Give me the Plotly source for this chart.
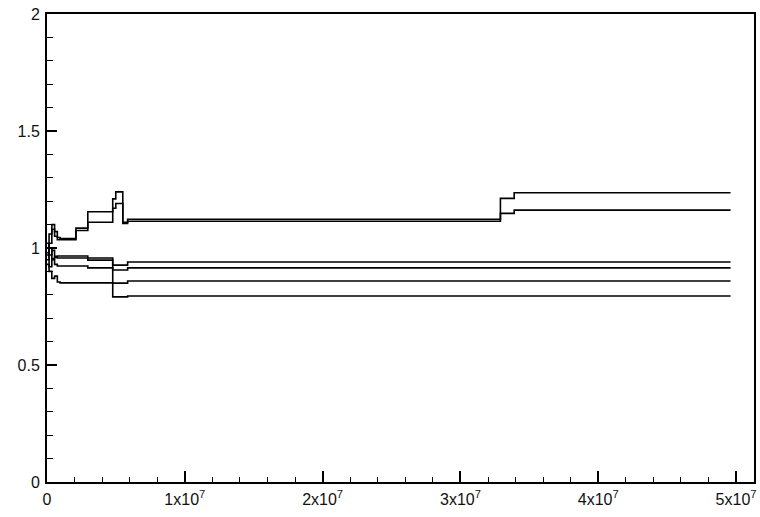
import plotly.graph_objects as go

# shared step breakpoints (x values)
x_steps = [0, 1.5e5, 3.5e5, 5.5e5, 7.5e5, 9.5e5, 2.1e6, 2.96e6, 4.77e6, 4.99e6,
           5.5e6, 5.85e6, 6.1e6, 3.29e7, 3.39e7, 4.96e7]

upper_a = [1.00, 1.06, 1.10, 1.07, 1.045, 1.04, 1.085, 1.155, 1.21, 1.24,
           1.11, 1.123, 1.123, 1.212, 1.236, 1.236]
upper_b = [0.98, 1.02, 1.08, 1.05, 1.035, 1.035, 1.075, 1.11, 1.17, 1.19,
           1.105, 1.114, 1.114, 1.148, 1.162, 1.162]
lower_1 = [1.02, 0.97, 0.99, 0.965, 0.966, 0.966, 0.966, 0.957, 0.927, 0.927,
           0.927, 0.940, 0.940, 0.940, 0.940, 0.940]
lower_2 = [0.95, 1.00, 0.955, 0.96, 0.957, 0.957, 0.957, 0.948, 0.906, 0.906,
           0.906, 0.915, 0.915, 0.915, 0.915, 0.915]
lower_3 = [0.97, 0.92, 0.95, 0.93, 0.923, 0.923, 0.923, 0.915, 0.850, 0.850,
           0.850, 0.859, 0.859, 0.859, 0.859, 0.859]
lower_4 = [0.93, 0.90, 0.87, 0.88, 0.855, 0.851, 0.851, 0.851, 0.791, 0.791,
           0.791, 0.795, 0.795, 0.795, 0.795, 0.795]

series = [upper_a, upper_b, lower_1, lower_2, lower_3, lower_4]

x_tickvals = [0, 1e7, 2e7, 3e7, 4e7, 5e7]
x_ticktext = ["0", "1x10<sup>7</sup>", "2x10<sup>7</sup>", "3x10<sup>7</sup>",
              "4x10<sup>7</sup>", "5x10<sup>7</sup>"]
y_tickvals = [0, 0.5, 1, 1.5, 2]
y_ticktext = ["0", "0.5", "1", "1.5", "2"]

fig = go.Figure()
for s in series:
    fig.add_trace(go.Scatter(x=x_steps, y=s, mode="lines",
                             line=dict(color="black", width=1.6, shape="hv"),
                             showlegend=False, hoverinfo="skip"))

font = dict(family="Liberation Sans, Arial, sans-serif", size=16, color="#111111")

fig.update_layout(
    width=760, height=517,
    margin=dict(l=47, r=4, t=14, b=35),
    paper_bgcolor="white", plot_bgcolor="white",
    font=font,
    showlegend=False,
)
fig.update_xaxes(
    range=[0, 5.13e7], tickvals=x_tickvals, ticktext=x_ticktext,
    showgrid=False, zeroline=False,
    showline=True, linecolor="black", linewidth=2, mirror=True,
    ticks="inside", ticklen=11, tickwidth=2, tickcolor="black",
    minor=dict(ticks="inside", ticklen=5, tickwidth=1, tickcolor="black",
               dtick=2e6, showgrid=False),
    tickfont=font, ticklabelstandoff=2,
)
fig.update_yaxes(
    range=[0, 2], tickvals=y_tickvals, ticktext=y_ticktext,
    showgrid=False, zeroline=False,
    showline=True, linecolor="black", linewidth=2, mirror=True,
    ticks="inside", ticklen=10, tickwidth=2, tickcolor="black",
    minor=dict(ticks="inside", ticklen=6, tickwidth=1, tickcolor="black",
               dtick=0.1, showgrid=False),
    tickfont=font, ticklabelstandoff=2,
)

fig.write_html("out.html")
